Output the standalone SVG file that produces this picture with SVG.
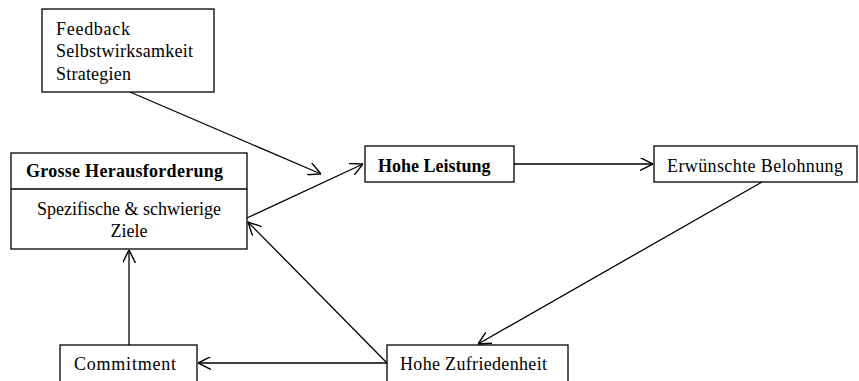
<svg xmlns="http://www.w3.org/2000/svg" width="859" height="381" viewBox="0 0 859 381">
  <style>
    .box { fill: #ffffff; stroke: #000000; stroke-width: 1.3; }
    .lbl { font-family: "Liberation Serif", "Times New Roman", serif; font-size: 18px; fill: #000000; }
    .bold { font-weight: bold; }
    .edge { fill: none; stroke: #000000; stroke-width: 1.3; }
  </style>
  <defs>
    <marker id="arrow" viewBox="0 0 12 12" refX="12" refY="6" markerWidth="13" markerHeight="13" markerUnits="userSpaceOnUse" orient="auto">
      <path d="M0,0 L12,6 L0,12" fill="none" stroke="#000000" stroke-width="1.3"/>
    </marker>
  </defs>

  <rect width="859" height="381" fill="#ffffff"/>

  <!-- connectors -->
  <g id="connectors">
    <line class="edge" x1="130" y1="92" x2="321" y2="174" marker-end="url(#arrow)"/>
    <line class="edge" x1="247" y1="218" x2="363" y2="164" marker-end="url(#arrow)"/>
    <line class="edge" x1="514" y1="164" x2="653" y2="164" marker-end="url(#arrow)"/>
    <line class="edge" x1="762" y1="182" x2="478" y2="344" marker-end="url(#arrow)"/>
    <line class="edge" x1="387" y1="363" x2="198" y2="363" marker-end="url(#arrow)"/>
    <line class="edge" x1="387" y1="363" x2="248" y2="222" marker-end="url(#arrow)"/>
    <line class="edge" x1="129" y1="345" x2="129" y2="250" marker-end="url(#arrow)"/>
  </g>

  <!-- factors box -->
  <g id="factors">
    <rect class="box" x="42" y="9" width="172" height="83"/>
    <text class="lbl" x="56" y="35" textLength="74" lengthAdjust="spacing">Feedback</text>
    <text class="lbl" x="56" y="57" textLength="137" lengthAdjust="spacing">Selbstwirksamkeit</text>
    <text class="lbl" x="56" y="80" textLength="75" lengthAdjust="spacing">Strategien</text>
  </g>

  <!-- challenge box -->
  <g id="challenge">
    <rect class="box" x="11" y="153" width="236" height="96"/>
    <line class="edge" x1="11" y1="189" x2="247" y2="189"/>
    <text class="lbl bold" x="26" y="177" textLength="197" lengthAdjust="spacing">Grosse Herausforderung</text>
    <text class="lbl" x="129" y="215" text-anchor="middle">Spezifische &amp; schwierige</text>
    <text class="lbl" x="129" y="237" text-anchor="middle">Ziele</text>
  </g>

  <!-- performance -->
  <g id="performance">
    <rect class="box" x="365" y="146" width="149" height="36"/>
    <text class="lbl bold" x="378" y="172">Hohe Leistung</text>
  </g>

  <!-- reward -->
  <g id="reward">
    <rect class="box" x="654" y="146" width="203" height="36"/>
    <text class="lbl" x="667" y="172" textLength="176" lengthAdjust="spacing">Erwünschte Belohnung</text>
  </g>

  <!-- satisfaction -->
  <g id="satisfaction">
    <rect class="box" x="387" y="345" width="181" height="50"/>
    <text class="lbl" x="400" y="370" textLength="147" lengthAdjust="spacing">Hohe Zufriedenheit</text>
  </g>

  <!-- commitment -->
  <g id="commitment">
    <rect class="box" x="60" y="345" width="137" height="50"/>
    <text class="lbl" x="74" y="370" textLength="102" lengthAdjust="spacing">Commitment</text>
  </g>
</svg>
